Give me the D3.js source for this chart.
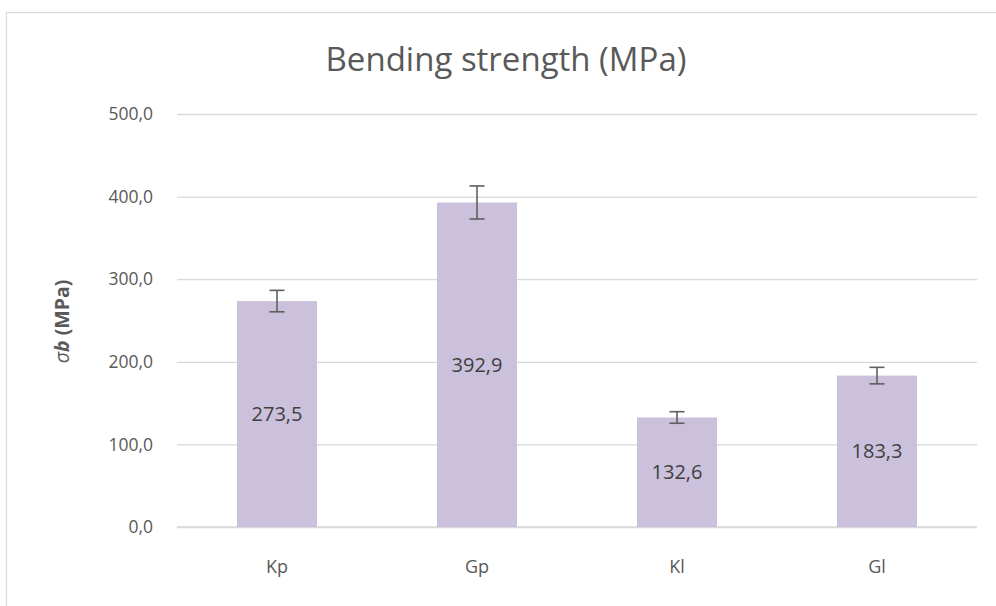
<!DOCTYPE html>
<html>
<head>
<meta charset="utf-8">
<script src="https://cdn.jsdelivr.net/npm/d3@7"></script>
<style>
  html, body { margin: 0; padding: 0; background: #fff; }
  svg { display: block; font-family: "Open Sans", "Noto Sans", sans-serif; }
</style>
</head>
<body>
<svg id="chart" width="996" height="606"></svg>
<script>
// Specimen groups and their mean bending strength (MPa)
const categories = ["Kp", "Gp", "Kl", "Gl"];
const strength = [273.5, 392.9, 132.6, 183.3];
// Standard deviation shown as error bars
const deviation = [13, 20, 7, 10];
const yTicks = [0, 100, 200, 300, 400, 500];

const data = categories.map((c, i) => ({ cat: c, v: strength[i], e: deviation[i] }));

const svg = d3.select("#chart");
const W = 996, H = 606;
const margin = { left: 177, right: 19, top: 114, bottom: 79 };

const fmt = v => d3.format(".1f")(v).replace(".", ",");

// Chart frame
svg.append("rect")
  .attr("x", 6.5).attr("y", 12.5)
  .attr("width", W + 10).attr("height", H + 10)
  .attr("fill", "#fff").attr("stroke", "#d9d9d9").attr("stroke-width", 1.2);

const x = d3.scaleBand()
  .domain(categories)
  .range([margin.left, W - margin.right])
  .paddingInner(0.6).paddingOuter(0.3);

const y = d3.scaleLinear()
  .domain([0, 500])
  .range([H - margin.bottom, margin.top]);

// Horizontal gridlines with value labels
const yAxis = d3.axisLeft(y)
  .tickValues(yTicks)
  .tickSize(-(W - margin.right - margin.left))
  .tickPadding(24)
  .tickFormat(fmt);

const gy = svg.append("g")
  .attr("transform", `translate(${margin.left},0)`)
  .call(yAxis);
gy.select(".domain").remove();
gy.selectAll(".tick line").attr("stroke", "#d9d9d9").attr("stroke-width", 1.3);
gy.selectAll(".tick text")
  .attr("fill", "#595959")
  .style("font-size", "17.5px")
  .style("font-family", "'Open Sans', sans-serif");

// Category labels
const xAxis = d3.axisBottom(x).tickSize(0).tickPadding(33);
const gx = svg.append("g")
  .attr("transform", `translate(0,${H - margin.bottom})`)
  .call(xAxis);
gx.select(".domain").attr("stroke", "#d9d9d9").attr("stroke-width", 1.3)
  .attr("d", `M${margin.left},0H${W - margin.right}`);
gx.selectAll(".tick text")
  .attr("fill", "#595959")
  .style("font-size", "18px")
  .style("font-family", "'Open Sans', sans-serif");

// Bars
svg.append("g").selectAll("rect")
  .data(data)
  .join("rect")
  .attr("x", d => x(d.cat))
  .attr("width", x.bandwidth())
  .attr("y", d => y(d.v))
  .attr("height", d => y(0) - y(d.v))
  .attr("fill", "#cbc1dc");

// Error bars
const err = svg.append("g").attr("stroke", "#5f5f5f").attr("stroke-width", 1.6);
const cap = 7.5;
data.forEach(d => {
  const cx = x(d.cat) + x.bandwidth() / 2;
  err.append("line").attr("x1", cx).attr("x2", cx)
    .attr("y1", y(d.v + d.e)).attr("y2", y(d.v - d.e));
  err.append("line").attr("x1", cx - cap).attr("x2", cx + cap)
    .attr("y1", y(d.v + d.e)).attr("y2", y(d.v + d.e));
  err.append("line").attr("x1", cx - cap).attr("x2", cx + cap)
    .attr("y1", y(d.v - d.e)).attr("y2", y(d.v - d.e));
});

// Value labels centred inside the bars
svg.append("g").selectAll("text")
  .data(data)
  .join("text")
  .attr("x", d => x(d.cat) + x.bandwidth() / 2)
  .attr("y", d => (y(d.v) + y(0)) / 2)
  .attr("dy", "0.35em")
  .attr("text-anchor", "middle")
  .attr("fill", "#404040")
  .style("font-size", "20px")
  .text(d => fmt(d.v));

// Title
svg.append("text")
  .attr("x", 506).attr("y", 59)
  .attr("dy", "0.35em")
  .attr("text-anchor", "middle")
  .attr("fill", "#595959")
  .style("font-size", "33px")
  .text("Bending strength (MPa)");

// Y axis title: σb (MPa)
const yt = svg.append("text")
  .attr("transform", `translate(62,${(y(0) + y(500)) / 2 + 1}) rotate(-90)`)
  .attr("text-anchor", "middle")
  .attr("dy", "0.35em")
  .attr("fill", "#595959")
  .style("font-size", "19.5px")
  .style("font-weight", "bold");
yt.append("tspan").style("font-style", "italic").style("font-weight", "normal").text("σ");
yt.append("tspan").style("font-style", "italic").text("b");
yt.append("tspan").text(" (MPa)");
</script>
</body>
</html>
